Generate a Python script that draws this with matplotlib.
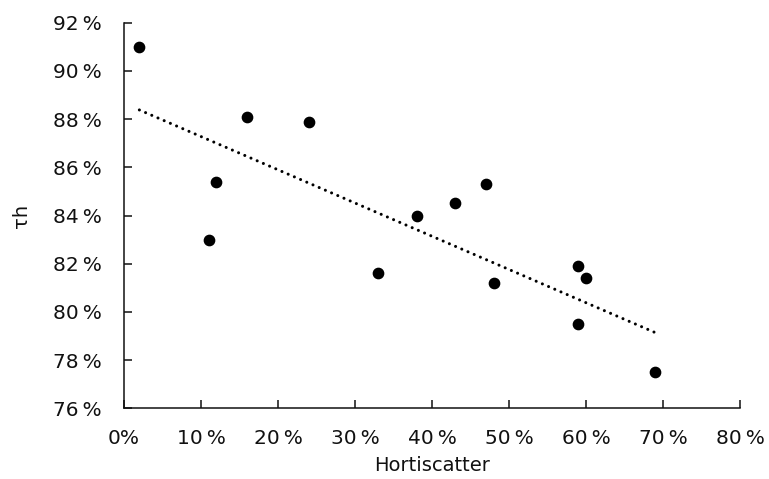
#! /usr/bin/env python3
# coding: utf-8

import matplotlib
matplotlib.use('Agg')
import matplotlib.pyplot as plt

# values, in percent
horti = [2, 11, 12, 16, 24, 33, 38, 43, 47, 48, 59, 59, 60, 69]
tau_h = [91.0, 83.0, 85.4, 88.1, 87.9, 81.6, 84.0, 84.5, 85.3, 81.2, 81.9, 79.5, 81.4, 77.5]

# trendline ends as drawn in the picture
trend_x = [2, 69]
trend_y = [88.38, 79.14]

x_ticks = [0, 10, 20, 30, 40, 50, 60, 70, 80]
x_labels = ['0%', '10\u2009%', '20\u2009%', '30\u2009%', '40\u2009%', '50\u2009%', '60\u2009%', '70\u2009%', '80\u2009%']
y_ticks = [76, 78, 80, 82, 84, 86, 88, 90, 92]
y_labels = ['{}\u2009%'.format(v) for v in y_ticks]

plt.rcParams['font.family'] = ['DejaVu Sans']

fig = plt.figure(figsize=(7.69, 4.79), dpi=100)
ax = fig.add_axes([0.1612, 0.1476, 0.8011, 0.805])

ax.scatter(horti, tau_h, s=55, color='black', zorder=3, clip_on=False)

ax.plot(trend_x, trend_y, color='black', linewidth=2.2,
        linestyle=(0, (0.01, 2.2)), dash_capstyle='round')

ax.set_xlim(0, 80)
ax.set_ylim(76, 92)
ax.set_xticks(x_ticks)
ax.set_xticklabels(x_labels)
ax.set_yticks(y_ticks)
ax.set_yticklabels(y_labels)

for side in ['top', 'right']:
    ax.spines[side].set_visible(False)
for side in ['left', 'bottom']:
    ax.spines[side].set_linewidth(1.1)
    ax.spines[side].set_color('#111111')

ax.tick_params(axis='both', direction='in', length=5.5, width=1.1, color='#111111',
               labelsize=14.5, labelcolor='#111111')
ax.tick_params(axis='y', pad=16)
ax.tick_params(axis='x', pad=15)

ax.set_xlabel('Hortiscatter', fontsize=14, color='#111111', labelpad=6)
ax.set_ylabel('\u03c4h', fontsize=14, color='#111111', labelpad=16)

fig.savefig('out.png', dpi=100)
